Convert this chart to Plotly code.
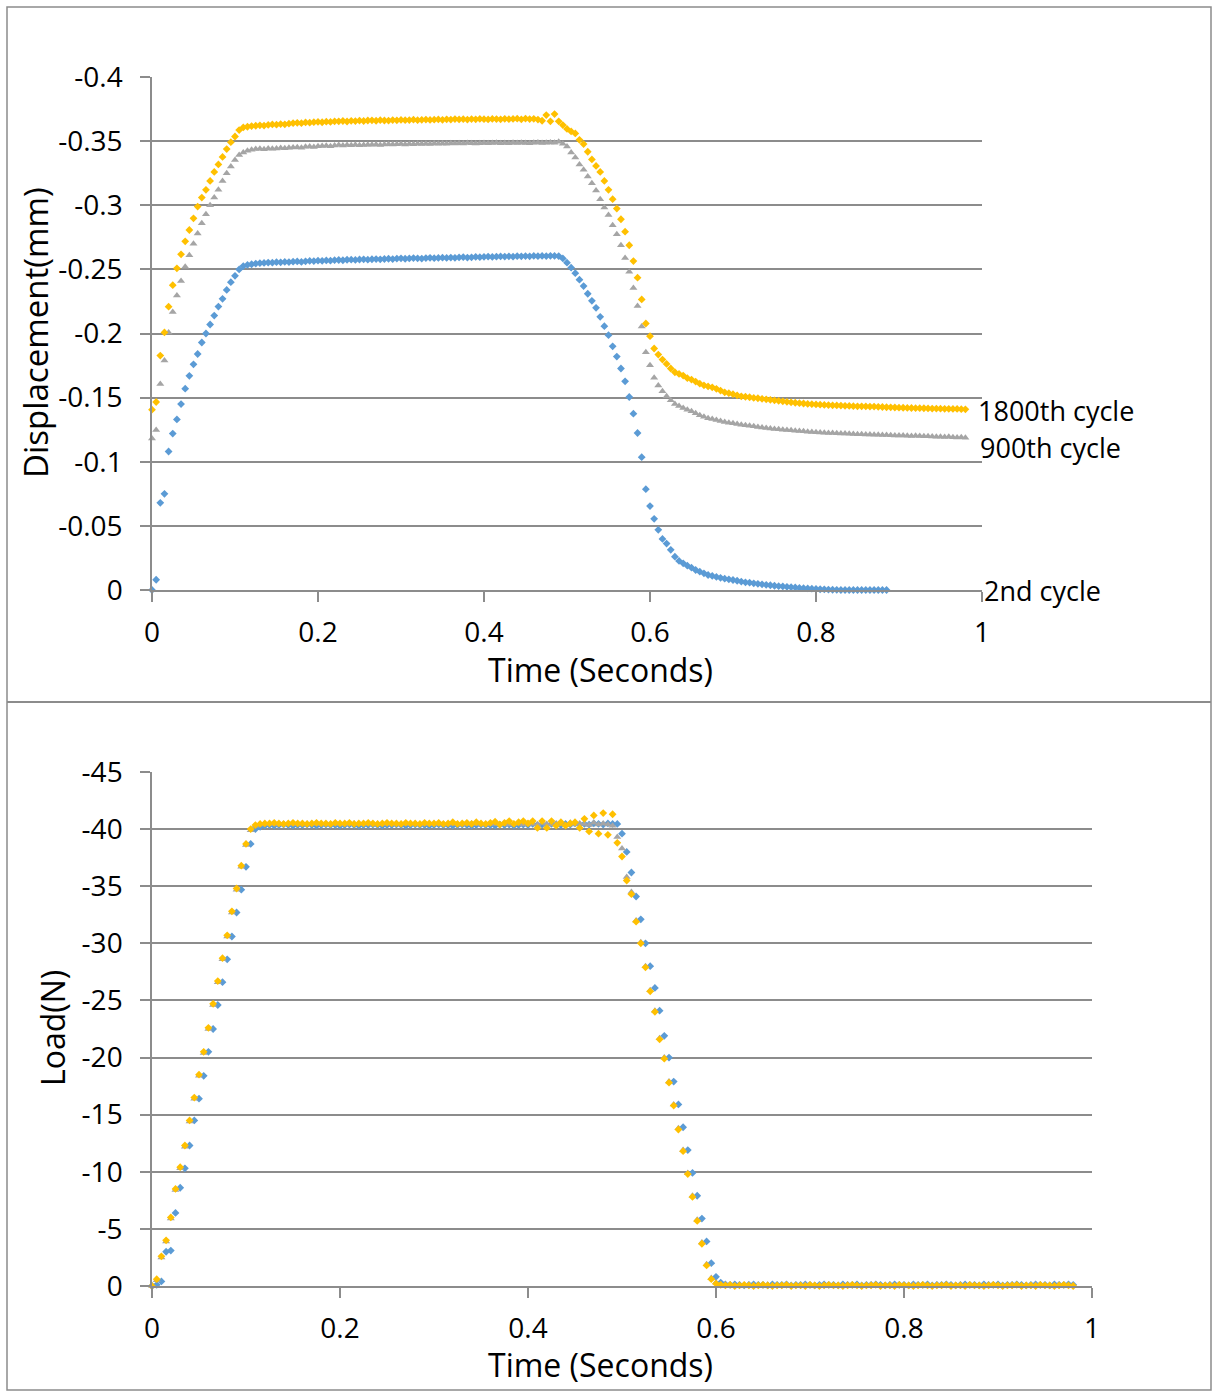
import plotly.graph_objects as go

# ---------------- data ----------------
SAMPLE_INTERVAL_S = 0.005  # recorder sampling interval (200 Hz)

SERIES_NAMES = ["2nd cycle", "900th cycle", "1800th cycle"]

DISP_2ND = [
    0.0, -0.008, -0.068, -0.075, -0.108, -0.122, -0.133, -0.145, -0.157, -0.167,
    -0.176, -0.184, -0.193, -0.200, -0.207, -0.214, -0.221, -0.227, -0.234, -0.240,
    -0.245, -0.250, -0.2526, -0.2535, -0.2540,
    -0.2545, -0.2548, -0.2550, -0.2553, -0.2552, -0.2556, -0.2555, -0.2558, -0.2557, -0.2560,
    -0.2562, -0.2558, -0.2563, -0.2566, -0.2565, -0.2568, -0.2567, -0.2570, -0.2568, -0.2572,
    -0.2573, -0.2571, -0.2575, -0.2576, -0.2574, -0.2577, -0.2578, -0.2576, -0.2579, -0.2580,
    -0.2578, -0.2581, -0.2583, -0.2580, -0.2584, -0.2586, -0.2583, -0.2585, -0.2588, -0.2586,
    -0.2584, -0.2588, -0.2590, -0.2587, -0.2589, -0.2591, -0.2589, -0.2592, -0.2590, -0.2593,
    -0.2595, -0.2592, -0.2594, -0.2597, -0.2595, -0.2598, -0.2600, -0.2597, -0.2599, -0.2601,
    -0.2600, -0.2602, -0.2599, -0.2603, -0.2602, -0.2604, -0.2602, -0.2605, -0.2603, -0.2605,
    -0.2604, -0.2606, -0.2605, -0.2604,
    -0.2585,
    -0.2552, -0.2513, -0.2470, -0.2420, -0.2370, -0.2310, -0.2255, -0.2200, -0.2130, -0.2057,
    -0.1987, -0.1900, -0.1820, -0.1727, -0.1627, -0.1505, -0.1375, -0.1224, -0.1036, -0.0786,
    -0.0654, -0.0555, -0.0469, -0.0398, -0.0362, -0.0313, -0.0260, -0.0227, -0.0208, -0.0190,
    -0.0174, -0.0156, -0.0143, -0.0130, -0.0117,
    -0.0110, -0.0102, -0.0095, -0.0088, -0.0083, -0.0078, -0.0072, -0.0066, -0.0060, -0.0057,
    -0.0052, -0.0048, -0.0044, -0.0040, -0.0037, -0.0033, -0.0030, -0.0028, -0.0025, -0.0022,
    -0.0020, -0.0016, -0.0014, -0.0012, -0.0010, -0.0008, -0.0006, -0.0005, -0.0003, -0.0002,
    -0.0001, 0.0, 0.0, 0.0, 0.0, 0.0, 0.0, 0.0, 0.0, 0.0,
    0.0, 0.0, 0.0,
]

DISP_900 = [
    -0.1182, -0.1248, -0.1607, -0.1790, -0.2008, -0.2167, -0.2297, -0.2409, -0.2521, -0.2610,
    -0.2700, -0.2780, -0.2860, -0.2930, -0.3000, -0.3060, -0.3120, -0.3190, -0.3250, -0.3302,
    -0.3352, -0.3391, -0.3412, -0.3424, -0.3432,
    -0.3438, -0.3440, -0.3437, -0.3442, -0.3441, -0.3443, -0.3446, -0.3444, -0.3448, -0.3450,
    -0.3452, -0.3449, -0.3456, -0.3458, -0.3455, -0.3460, -0.3462, -0.3464, -0.3461, -0.3466,
    -0.3469, -0.3466, -0.3470, -0.3467, -0.3471, -0.3468, -0.3470, -0.3472, -0.3471, -0.3473,
    -0.3470, -0.3474, -0.3476, -0.3473, -0.3475, -0.3477, -0.3474, -0.3478, -0.3476, -0.3479,
    -0.3477, -0.3480, -0.3478, -0.3481, -0.3479, -0.3482, -0.3480, -0.3483, -0.3481, -0.3484,
    -0.3482, -0.3485, -0.3483, -0.3481, -0.3484, -0.3486, -0.3483, -0.3485, -0.3487, -0.3484,
    -0.3486, -0.3483, -0.3487, -0.3485, -0.3488, -0.3486, -0.3484, -0.3487, -0.3489, -0.3486,
    -0.3488, -0.3490, -0.3487, -0.3495,
    -0.3480,
    -0.3458, -0.3412, -0.3373, -0.3318, -0.3276, -0.3224, -0.3172, -0.3115, -0.3047, -0.2982,
    -0.2924, -0.2844, -0.2773, -0.2688, -0.2589, -0.2482, -0.2354, -0.2214, -0.2055, -0.1854,
    -0.1753, -0.1654, -0.1594, -0.1549, -0.1510, -0.1479, -0.1451, -0.1435, -0.1420, -0.1405,
    -0.1393, -0.1378, -0.1362, -0.1350, -0.1340, -0.1333, -0.1325, -0.1318, -0.1310, -0.1305,
    -0.1300, -0.1294, -0.1289, -0.1285, -0.1280, -0.1276, -0.1271, -0.1268, -0.1264, -0.1260,
    -0.1255, -0.1253, -0.1250, -0.1248, -0.1245, -0.1242, -0.1240, -0.1237, -0.1234, -0.1232,
    -0.1230, -0.1229, -0.1227, -0.1225, -0.1224, -0.1223, -0.1221, -0.1220, -0.1218, -0.1216,
    -0.1214, -0.1214, -0.1212, -0.1213, -0.1211, -0.1210, -0.1208, -0.1209, -0.1206, -0.1205,
    -0.1204, -0.1205, -0.1203, -0.1201, -0.1202, -0.1200, -0.1198, -0.1199, -0.1197, -0.1195,
    -0.1194, -0.1193, -0.1194, -0.1192, -0.1190, -0.1191, -0.1188,
]

DISP_1800 = [
    -0.1406, -0.1466, -0.1828, -0.2008, -0.2209, -0.2377, -0.2508, -0.2617, -0.2719, -0.2807,
    -0.2898, -0.2990, -0.3060, -0.3120, -0.3190, -0.3260, -0.3318, -0.3377, -0.3438, -0.3492,
    -0.3536, -0.3586, -0.3607, -0.3612, -0.3617,
    -0.3620, -0.3623, -0.3621, -0.3626, -0.3630, -0.3628, -0.3633, -0.3631, -0.3636, -0.3640,
    -0.3643, -0.3640, -0.3646, -0.3644, -0.3648, -0.3650, -0.3647, -0.3652, -0.3650, -0.3654,
    -0.3654, -0.3657, -0.3653, -0.3658, -0.3656, -0.3660, -0.3657, -0.3661, -0.3662, -0.3659,
    -0.3663, -0.3661, -0.3660, -0.3664, -0.3662, -0.3665, -0.3663, -0.3664, -0.3667, -0.3663,
    -0.3666, -0.3668, -0.3665, -0.3667, -0.3669, -0.3666, -0.3670, -0.3668, -0.3672, -0.3669,
    -0.3671, -0.3668, -0.3672, -0.3670, -0.3673, -0.3671, -0.3669, -0.3673, -0.3672, -0.3670,
    -0.3674, -0.3671, -0.3673, -0.3675, -0.3670, -0.3676, -0.3672, -0.3674, -0.3668,
    -0.3659, -0.3703, -0.3654, -0.3711, -0.3654, -0.3625, -0.3595,
    -0.3576, -0.3560, -0.3510, -0.3477, -0.3417, -0.3357, -0.3307, -0.3260, -0.3190, -0.3120,
    -0.3047, -0.2974, -0.2891, -0.2794, -0.2688, -0.2565, -0.2435, -0.2266, -0.2078,
    -0.1979, -0.1883, -0.1836, -0.1797, -0.1763, -0.1727, -0.1698, -0.1685, -0.1672, -0.1652,
    -0.1641, -0.1625, -0.1609, -0.1596, -0.1587, -0.1580, -0.1569, -0.1555, -0.1541, -0.1535,
    -0.1527, -0.1518, -0.1510, -0.1507, -0.1503, -0.1498, -0.1495, -0.1491, -0.1487, -0.1483,
    -0.1479, -0.1475, -0.1471, -0.1467, -0.1463, -0.1460, -0.1457, -0.1454, -0.1451, -0.1449,
    -0.1447, -0.1445, -0.1443, -0.1442, -0.1440, -0.1439, -0.1438, -0.1436, -0.1435, -0.1433,
    -0.1432, -0.1432, -0.1431, -0.1430, -0.1430, -0.1428, -0.1427, -0.1425, -0.1424, -0.1423,
    -0.1422, -0.1421, -0.1420, -0.1419, -0.1418, -0.1418, -0.1417, -0.1416, -0.1415, -0.1415,
    -0.1414, -0.1413, -0.1413, -0.1412, -0.1412, -0.1410, -0.1409,
]

LOAD_2ND = [
    0.0, -0.1, -0.4, -3.0, -3.1, -6.4, -8.6, -10.3, -12.3, -14.5,
    -16.4, -18.4, -20.5, -22.5, -24.6, -26.6, -28.6, -30.6, -32.7, -34.7,
    -36.7, -38.7, -40.0, -40.2, -40.3,
    -40.35, -40.30, -40.35, -40.40, -40.35, -40.30, -40.35, -40.35, -40.40, -40.35,
    -40.30, -40.35, -40.40, -40.35, -40.35, -40.30, -40.35, -40.40, -40.35, -40.30,
    -40.35, -40.35, -40.40, -40.35, -40.30, -40.35, -40.35, -40.40, -40.35, -40.30,
    -40.35, -40.40, -40.35, -40.35, -40.30, -40.35, -40.40, -40.35, -40.35, -40.30,
    -40.35, -40.40, -40.35, -40.30, -40.35, -40.40, -40.35, -40.35, -40.30, -40.40,
    -40.35, -40.40, -40.30, -40.35, -40.40, -40.35, -40.45, -40.35, -40.40, -40.35,
    -40.45, -40.40, -40.35, -40.45, -40.40, -40.50, -40.40, -40.45, -40.40, -40.50,
    -40.45, -40.40, -40.50, -40.45, -40.45,
    -39.6, -38.0, -36.2, -34.1, -32.1, -30.0, -28.0, -26.1, -24.1, -21.9,
    -20.0, -17.9, -15.9, -13.9, -11.9, -9.9, -7.9, -5.9, -3.9, -2.0,
    -0.8, -0.3,
    -0.15, -0.10, -0.15, -0.10, -0.05, -0.10, -0.15, -0.10, -0.10, -0.05,
    -0.15, -0.10, -0.10, -0.15, -0.05, -0.10, -0.10, -0.15, -0.10, -0.05,
    -0.10, -0.15, -0.10, -0.10, -0.05, -0.15, -0.10, -0.10, -0.15, -0.05,
    -0.10, -0.10, -0.15, -0.10, -0.05, -0.10, -0.15, -0.10, -0.10, -0.05,
    -0.15, -0.10, -0.10, -0.15, -0.05, -0.10, -0.10, -0.15, -0.10, -0.05,
    -0.10, -0.15, -0.10, -0.10, -0.05, -0.15, -0.10, -0.10, -0.15, -0.05,
    -0.10, -0.10, -0.15, -0.10, -0.05, -0.10, -0.15, -0.10, -0.10, -0.05,
    -0.15, -0.10, -0.10, -0.15, -0.10,
]

LOAD_900 = [
    0.0, -0.5, -2.5, -3.9, -5.9, -8.4, -10.3, -12.2, -14.4, -16.4,
    -18.4, -20.4, -22.5, -24.6, -26.6, -28.6, -30.6, -32.7, -34.7, -36.7,
    -38.6, -39.9, -40.3, -40.4,
    -40.45, -40.50, -40.45, -40.40, -40.45, -40.50, -40.45, -40.45, -40.40, -40.45,
    -40.50, -40.45, -40.45, -40.40, -40.45, -40.50, -40.45, -40.40, -40.45, -40.50,
    -40.45, -40.45, -40.50, -40.40, -40.45, -40.45, -40.50, -40.45, -40.40, -40.45,
    -40.50, -40.45, -40.45, -40.40, -40.45, -40.50, -40.45, -40.45, -40.40, -40.45,
    -40.50, -40.45, -40.40, -40.45, -40.50, -40.45, -40.45, -40.40, -40.50, -40.45,
    -40.45, -40.50, -40.40, -40.45, -40.55, -40.40, -40.50, -40.45, -40.40, -40.55,
    -40.45, -40.40, -40.50, -40.45, -40.35, -40.55, -40.40, -40.50, -40.45, -40.35,
    -40.55, -40.40, -40.50, -40.40,
    -40.3, -39.3, -38.3, -35.8, -34.5, -32.0, -30.1, -28.0, -25.9, -24.1,
    -21.7, -20.0, -17.9, -15.9, -13.8, -11.9, -9.9, -7.9, -5.8, -3.8,
    -1.9, -0.7, -0.3,
    -0.15, -0.10, -0.10, -0.05, -0.10, -0.05, -0.10, -0.05, 0.00, -0.05,
    -0.10, -0.05, 0.00, -0.05, -0.10, -0.05, -0.05, 0.00, -0.10, -0.05,
    0.00, -0.05, -0.10, -0.05, 0.00, -0.05, -0.05, -0.10, 0.00, -0.05,
    -0.05, 0.00, -0.10, -0.05, 0.00, -0.05, -0.10, -0.05, -0.05, 0.00,
    -0.05, -0.10, 0.00, -0.05, -0.05, 0.00, -0.10, -0.05, 0.00, -0.05,
    -0.05, -0.10, 0.00, -0.05, -0.05, 0.00, -0.05, -0.10, -0.05, 0.00,
    -0.05, -0.05, -0.10, 0.00, -0.05, -0.05, 0.00, -0.10, -0.05, -0.05,
    0.00, -0.05, -0.10, -0.05, 0.00, -0.05,
]

LOAD_1800 = [
    0.0, -0.6, -2.6, -4.0, -6.0, -8.5, -10.4, -12.3, -14.5, -16.5,
    -18.5, -20.5, -22.6, -24.7, -26.7, -28.7, -30.7, -32.8, -34.8, -36.8,
    -38.7, -40.0, -40.35, -40.45,
    -40.50, -40.50, -40.55, -40.50, -40.45, -40.50, -40.55, -40.50, -40.50, -40.45,
    -40.50, -40.55, -40.50, -40.50, -40.45, -40.55, -40.50, -40.50, -40.55, -40.45,
    -40.50, -40.50, -40.55, -40.50, -40.45, -40.50, -40.55, -40.50, -40.50, -40.45,
    -40.55, -40.50, -40.50, -40.45, -40.55, -40.50, -40.50, -40.55, -40.45, -40.50,
    -40.60, -40.45, -40.50, -40.55, -40.45, -40.60, -40.50, -40.45, -40.55, -40.65,
    -40.40, -40.55, -40.70, -40.45, -40.60,
    -40.7, -40.5, -40.7, -40.1, -40.7, -40.1, -40.7, -40.3, -40.6, -40.3,
    -40.5, -40.6, -40.1, -40.9, -39.8, -41.2, -39.6, -41.4, -39.5, -41.3,
    -38.8,
    -37.6, -35.5, -34.3, -31.9, -30.0, -27.9, -25.8, -24.0, -21.6, -19.9,
    -17.8, -15.8, -13.7, -11.8, -9.8, -7.8, -5.7, -3.7, -1.8, -0.6,
    -0.2,
    -0.10, -0.05, -0.10, 0.00, -0.05, -0.10, -0.05, 0.00, -0.05, -0.10,
    -0.05, 0.00, -0.05, -0.05, -0.10, 0.00, -0.05, -0.05, 0.00, -0.10,
    -0.05, 0.00, -0.05, -0.10, -0.05, -0.05, 0.00, -0.05, -0.10, -0.05,
    0.00, -0.05, -0.05, -0.10, 0.00, -0.05, -0.05, 0.00, -0.10, -0.05,
    -0.05, 0.00, -0.05, -0.10, -0.05, 0.00, -0.05, -0.05, -0.10, 0.00,
    -0.05, -0.05, 0.00, -0.10, -0.05, -0.05, 0.00, -0.05, -0.10, -0.05,
    0.00, -0.05, -0.05, -0.10, 0.00, -0.05, -0.05, 0.00, -0.10, -0.05,
    -0.05, 0.00, -0.05, -0.10, -0.05, 0.00,
]

TIME_TICKS = [0, 0.2, 0.4, 0.6, 0.8, 1]
TIME_TICK_LABELS = ["0", "0.2", "0.4", "0.6", "0.8", "1"]
DISP_TICKS = [-0.4, -0.35, -0.3, -0.25, -0.2, -0.15, -0.1, -0.05, 0]
DISP_TICK_LABELS = ["-0.4", "-0.35", "-0.3", "-0.25", "-0.2", "-0.15", "-0.1", "-0.05", "0"]
LOAD_TICKS = [-45, -40, -35, -30, -25, -20, -15, -10, -5, 0]
LOAD_TICK_LABELS = ["-45", "-40", "-35", "-30", "-25", "-20", "-15", "-10", "-5", "0"]

# ---------------- styling ----------------
W, H = 1218, 1392
FONT = "Open Sans"
LINE = "#8c8c8c"
COLORS = {"2nd cycle": "#5B9BD5", "900th cycle": "#A5A5A5", "1800th cycle": "#FFC000"}
SYMBOLS = {"2nd cycle": "diamond", "900th cycle": "triangle-up", "1800th cycle": "diamond"}
SIZES = {"2nd cycle": 6, "900th cycle": 7, "1800th cycle": 6}


def times(series):
    return [i * SAMPLE_INTERVAL_S for i in range(len(series))]


def fx(p):
    """page pixel x -> paper fraction"""
    return p / W


def fy(p):
    """page pixel y (from top) -> paper fraction"""
    return 1 - p / H


fig = go.Figure()

disp = {"2nd cycle": DISP_2ND, "900th cycle": DISP_900, "1800th cycle": DISP_1800}
load = {"2nd cycle": LOAD_2ND, "900th cycle": LOAD_900, "1800th cycle": LOAD_1800}

for name in SERIES_NAMES:
    fig.add_trace(go.Scatter(
        x=times(disp[name]), y=disp[name], mode="markers", name=name,
        marker=dict(symbol=SYMBOLS[name], size=SIZES[name], color=COLORS[name],
                    line=dict(width=0)),
        cliponaxis=False, xaxis="x", yaxis="y", showlegend=False))

for name in SERIES_NAMES:
    fig.add_trace(go.Scatter(
        x=times(load[name]), y=load[name], mode="markers", name=name,
        marker=dict(symbol=SYMBOLS[name], size=SIZES[name], color=COLORS[name],
                    line=dict(width=0)),
        cliponaxis=False, xaxis="x2", yaxis="y2", showlegend=False))

tickfont = dict(family=FONT, size=28, color="#000000")
common = dict(showline=True, linecolor=LINE, linewidth=1.5, ticks="outside",
              ticklen=10, tickwidth=1.5, tickcolor=LINE, tickfont=tickfont,
              zeroline=False, automargin=False)

fig.update_layout(
    width=W, height=H, autosize=False,
    margin=dict(l=0, r=0, t=0, b=0, pad=0),
    paper_bgcolor="white", plot_bgcolor="white",
    font=dict(family=FONT, color="#000000"),
    xaxis=dict(domain=[fx(152), fx(982)], range=[0, 1], anchor="y",
               tickvals=TIME_TICKS, ticktext=TIME_TICK_LABELS, showgrid=False,
               ticklabelstandoff=7, **common),
    yaxis=dict(domain=[fy(590), fy(77)], range=[0, -0.4], anchor="x",
               tickvals=DISP_TICKS, ticktext=DISP_TICK_LABELS, showgrid=True,
               gridcolor=LINE, gridwidth=1.5, ticklabelstandoff=12, **common),
    xaxis2=dict(domain=[fx(152), fx(1092)], range=[0, 1], anchor="y2",
                tickvals=TIME_TICKS, ticktext=TIME_TICK_LABELS, showgrid=False,
                ticklabelstandoff=7, **common),
    yaxis2=dict(domain=[fy(1286), fy(772)], range=[0, -45], anchor="x2",
                tickvals=LOAD_TICKS, ticktext=LOAD_TICK_LABELS, showgrid=True,
                gridcolor=LINE, gridwidth=1.5, ticklabelstandoff=12, **common),
)

annotations = [
    dict(text="Time (Seconds)", x=fx(600), y=fy(669), xref="paper", yref="paper",
         showarrow=False, font=dict(family=FONT, size=32, color="#000"),
         xanchor="center", yanchor="middle"),
    dict(text="Displacement(mm)", x=fx(35), y=fy(333), xref="paper", yref="paper",
         showarrow=False, textangle=-90, font=dict(family=FONT, size=33, color="#000"),
         xanchor="center", yanchor="middle"),
    dict(text="Time (Seconds)", x=fx(600), y=fy(1364), xref="paper", yref="paper",
         showarrow=False, font=dict(family=FONT, size=32, color="#000"),
         xanchor="center", yanchor="middle"),
    dict(text="Load(N)", x=fx(52), y=fy(1028), xref="paper", yref="paper",
         showarrow=False, textangle=-90, font=dict(family=FONT, size=32, color="#000"),
         xanchor="center", yanchor="middle"),
    dict(text="1800th cycle", x=0.9925, y=-0.1398, xref="x", yref="y",
         showarrow=False, font=dict(family=FONT, size=27, color="#000"),
         xanchor="left", yanchor="middle"),
    dict(text="900th cycle", x=0.995, y=-0.1109, xref="x", yref="y",
         showarrow=False, font=dict(family=FONT, size=27, color="#000"),
         xanchor="left", yanchor="middle"),
    dict(text="2nd cycle", x=1.0, y=0.0, xref="x", yref="y",
         showarrow=False, font=dict(family=FONT, size=27, color="#000"),
         xanchor="left", yanchor="middle"),
]
fig.update_layout(annotations=annotations)

fig.update_layout(shapes=[
    dict(type="rect", xref="paper", yref="paper", x0=fx(7), x1=fx(1211),
         y0=fy(1390), y1=fy(7), line=dict(color=LINE, width=1.5)),
    dict(type="line", xref="paper", yref="paper", x0=fx(7), x1=fx(1211),
         y0=fy(702), y1=fy(702), line=dict(color=LINE, width=2)),
])

# place the figure flush with the page corner (no default body margin)
fig.write_html(
    "out.html",
    config={"displayModeBar": False},
    post_script="document.body.style.margin='0';document.body.style.overflow='hidden';",
)
